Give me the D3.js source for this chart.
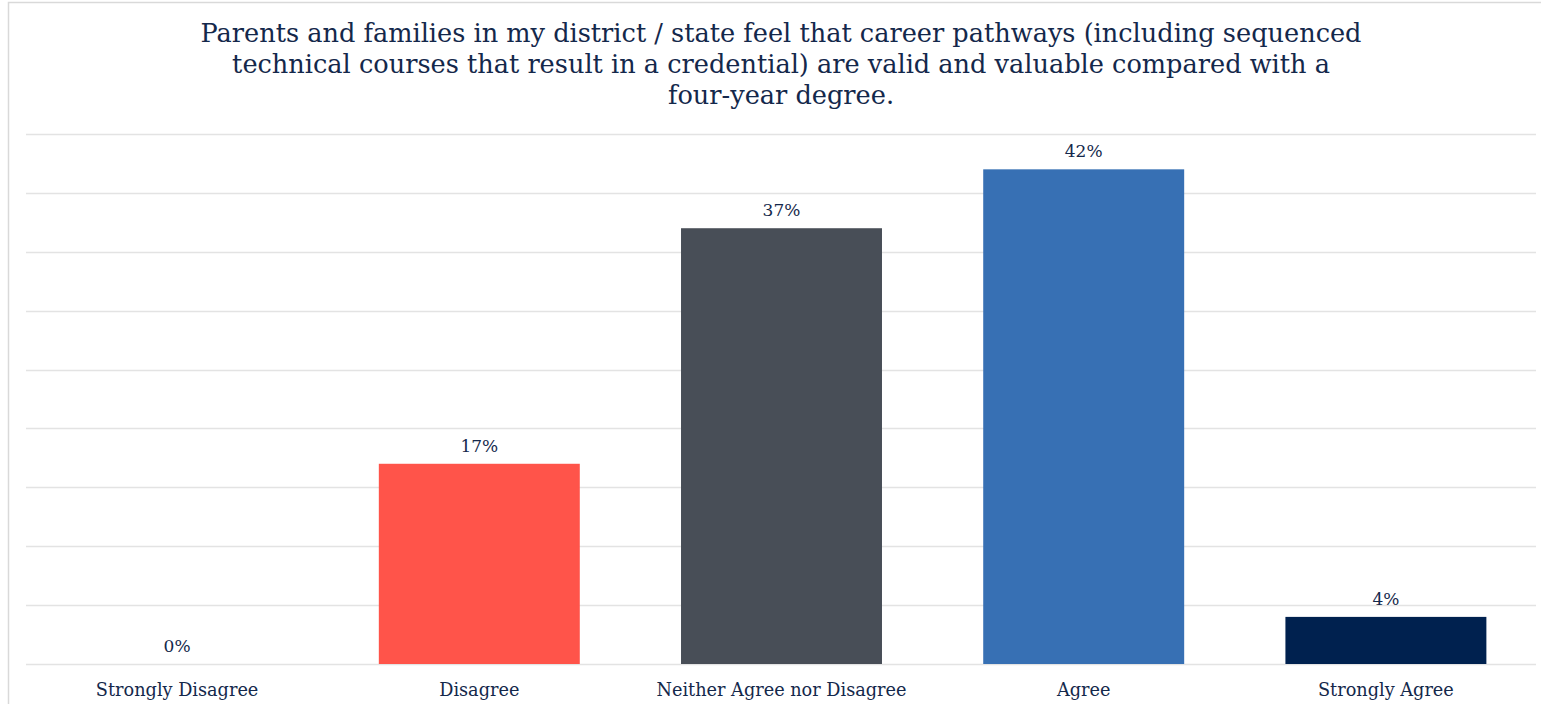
<!DOCTYPE html>
<html>
<head>
<meta charset="utf-8">
<script src="https://cdn.jsdelivr.net/npm/d3@7/dist/d3.min.js"></script>
<style>
  html, body { margin: 0; padding: 0; background: #fff; }
  svg { display: block; }
  text { font-family: "DejaVu Serif", serif; fill: #14284b; }
</style>
</head>
<body>
<svg id="chart" width="1541" height="704"></svg>
<script>
// Survey responses (percent of respondents)
const categories = ["Strongly Disagree", "Disagree", "Neither Agree nor Disagree", "Agree", "Strongly Agree"];
const values = [0, 17, 37, 42, 4];
const colors = ["#7f7f7f", "#ff544a", "#484e57", "#3770b4", "#00214f"];
const gridTicks = [0, 5, 10, 15, 20, 25, 30, 35, 40, 45];
const titleLines = [
  "Parents and families in my district / state feel that career pathways (including sequenced",
  "technical courses that result in a credential) are valid and valuable compared with a",
  "four-year degree."
];

const W = 1541, H = 704;
const plot = { left: 26, right: 1537, top: 134, bottom: 664 };

const svg = d3.select("#chart");

// outer frame
svg.append("path")
  .attr("d", `M8.5,${H} V2.5 H${W}`)
  .attr("fill", "none")
  .attr("stroke", "#d9d9d9")
  .attr("stroke-width", 1.5);

const x = d3.scaleBand().domain(categories).range([plot.left, plot.right]).padding(0);
const y = d3.scaleLinear().domain([0, 45]).range([plot.bottom, plot.top]);

// horizontal gridlines
svg.append("g").selectAll("line")
  .data(gridTicks)
  .join("line")
  .attr("x1", plot.left).attr("x2", plot.right - 1)
  .attr("y1", d => Math.round(y(d)) + 0.5)
  .attr("y2", d => Math.round(y(d)) + 0.5)
  .attr("stroke", "#e3e3e3")
  .attr("stroke-width", 1.3);

// bars
const barW = x.bandwidth() * 0.665;
svg.append("g").selectAll("rect")
  .data(values)
  .join("rect")
  .attr("x", (d, i) => x(categories[i]) + (x.bandwidth() - barW) / 2)
  .attr("y", d => y(d))
  .attr("width", barW)
  .attr("height", d => y(0) - y(d))
  .attr("fill", (d, i) => colors[i]);

// value labels
svg.append("g").selectAll("text")
  .data(values)
  .join("text")
  .attr("x", (d, i) => x(categories[i]) + x.bandwidth() / 2)
  .attr("y", d => y(d) - 12)
  .attr("text-anchor", "middle")
  .attr("font-size", 17)
  .text(d => d + "%");

// category axis labels
svg.append("g").selectAll("text")
  .data(categories)
  .join("text")
  .attr("x", d => x(d) + x.bandwidth() / 2)
  .attr("y", 696)
  .attr("text-anchor", "middle")
  .attr("font-size", 17.7)
  .text(d => d);

// title
svg.append("g").selectAll("text")
  .data(titleLines)
  .join("text")
  .attr("x", 781)
  .attr("y", (d, i) => 42 + i * 31)
  .attr("text-anchor", "middle")
  .attr("font-size", 25.6)
  .text(d => d);
</script>
</body>
</html>
